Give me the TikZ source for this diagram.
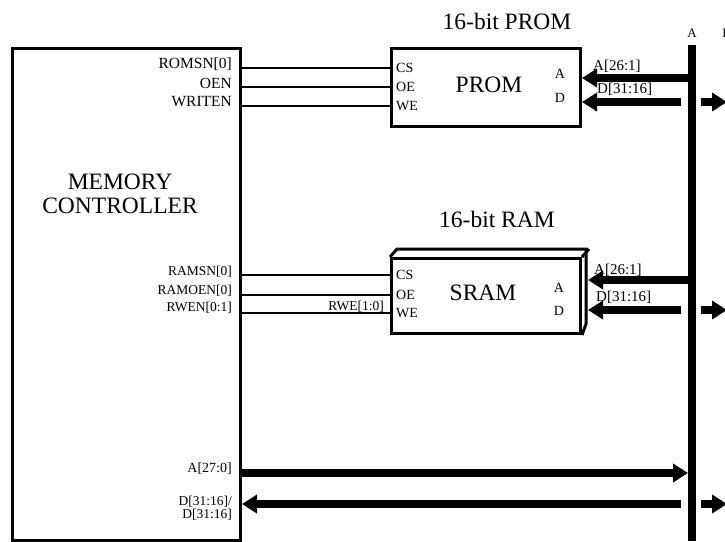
\documentclass[tikz,border=0pt]{standalone}
\usepackage{fontspec}
\setmainfont{Liberation Serif}
\usetikzlibrary{arrows.meta,calc}
\newcommand{\fsz}[1]{\fontsize{#1}{#1}\selectfont}
\begin{document}
\begin{tikzpicture}[x=1pt,y=-1pt,
  box/.style={draw, line width=3pt, inner sep=0pt, anchor=north west},
  wire/.style={line width=2pt},
  bus/.style={line width=8pt},
  busarrow/.style={line width=8pt, -{Triangle[length=15pt,width=18pt]}},
  big/.style={inner sep=0pt, font=\fsz{23.5}},
  sig/.style={inner sep=0pt, anchor=east, font=\fsz{15.5}},
  ramsig/.style={inner sep=0pt, anchor=east, font=\fsz{13.5}},
  pin/.style={inner sep=0pt, anchor=west, font=\fsz{14}},
  buslbl/.style={inner sep=0pt, anchor=west, font=\fsz{15}},
]
\useasboundingbox (0,0) rectangle (725,541);

% Memory controller
\node[box, minimum width=228pt, minimum height=492pt] (mc) at (11,47) {};
\node[big] (mem) at (120,182) {MEMORY};
\node[big] (ctl) at (120,206) {CONTROLLER};

% PROM
\node[box, minimum width=189pt, minimum height=78pt] (prom) at (390,47) {};
\node[big] (promtitle) at (507,21) {16-bit PROM};
\node[big] (promtxt) at (489,85) {PROM};
\node[pin] (pcs) at (396,68) {CS};
\node[pin] (poe) at (396,87) {OE};
\node[pin] (pwe) at (396,106) {WE};
\node[pin, anchor=center] (pa) at (560,74) {A};
\node[pin, anchor=center] (pd) at (560,98) {D};
\coordinate (pay) at (0,78);
\coordinate (pdy) at (0,102);

\node[sig] (romsn) at (232,64) {ROMSN[0]};
\node[sig] (oen) at (232,83) {OEN};
\node[sig] (writen) at (232,102) {WRITEN};

\draw[wire] (mc.east |- pcs) -- (prom.west |- pcs);
\draw[wire] (mc.east |- poe) -- (prom.west |- poe);
\draw[wire] (mc.east |- pwe) -- (prom.west |- pwe);

% SRAM
\node[box, minimum width=189pt, minimum height=75pt] (sram) at (390,257) {};
\draw[line width=3pt, line join=miter] (sram.north west) -- ++(7,-8) -- ++(189,0) -- ++(0,75) -- (sram.south east);
\draw[line width=3pt] (sram.north east) -- ++(7,-8);
\node[big] (ramtitle) at (497,219) {16-bit RAM};
\node[big] (sramtxt) at (483,293) {SRAM};
\node[pin] (scs) at (396,275) {CS};
\node[pin] (soe) at (396,295) {OE};
\node[pin] (swe) at (396,313) {WE};
\node[pin, anchor=center] (sa) at (559,288) {A};
\node[pin, anchor=center] (sd) at (559,311) {D};
\coordinate (say) at (0,280);
\coordinate (sdy) at (0,310);

\node[ramsig] (ramsn) at (232,272) {RAMSN[0]};
\node[ramsig] (ramoen) at (232,291) {RAMOEN[0]};
\node[ramsig] (rwen) at (232,308) {RWEN[0:1]};
\node[ramsig] (rwe) at (384,307) {RWE[1:0]};

\draw[wire] (mc.east |- scs) -- (sram.west |- scs);
\draw[wire] (mc.east |- soe) -- (sram.west |- soe);
\draw[wire] (mc.east |- swe) -- (sram.west |- swe);

% Bus
\coordinate (bt) at (692,45);
\coordinate (bb) at (692,541);
\coordinate (bl) at (688,0);
\coordinate (dl) at (681,0);
\coordinate (dr) at (701,0);
\coordinate (de) at (727,0);
\node[pin, anchor=center, font=\fsz{13}] (busa) at (692,33) {A};
\node[pin, anchor=center, font=\fsz{13}] (busd) at (727,33) {D};

% PROM bus arrows
\draw[busarrow] (bt |- pay) -- (prom.east |- pay);
\draw[busarrow] (dl |- pdy) -- (prom.east |- pdy);
\draw[busarrow] (dr |- pdy) -- (de |- pdy);
\node[buslbl] (pal) at (593,66) {A[26:1]};
\node[buslbl] (pdl) at (597,89) {D[31:16]};

% SRAM bus arrows
\draw[busarrow] (bt |- say) -- ($(sram.east |- say)+(6,0)$);
\draw[busarrow] (dl |- sdy) -- ($(sram.east |- sdy)+(6,0)$);
\draw[busarrow] (dr |- sdy) -- (de |- sdy);
\node[buslbl] (sal) at (594,270) {A[26:1]};
\node[buslbl] (sdl) at (596,297) {D[31:16]};

% Controller bus
\coordinate (aby) at (0,473);
\coordinate (dby) at (0,504);
\draw[busarrow] (mc.east |- aby) -- (bl |- aby);
\draw[busarrow] (dl |- dby) -- (mc.east |- dby);
\draw[busarrow] (dr |- dby) -- (de |- dby);
\node[ramsig, font=\fsz{14}] (a270) at (232,469) {A[27:0]};
\node[ramsig, align=right] (d3116) at (232,508) {D[31:16]/\\D[31:16]};

\draw[bus] (bt) -- (bb);
\end{tikzpicture}
\end{document}
